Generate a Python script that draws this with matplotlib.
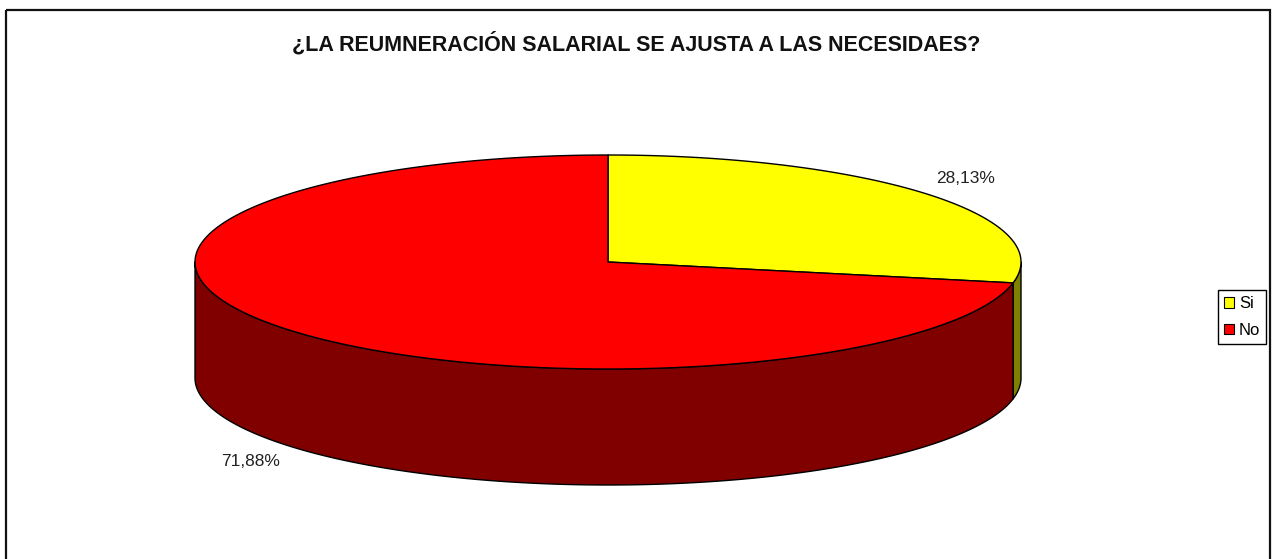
import numpy as np
import matplotlib
matplotlib.use("Agg")
import matplotlib.pyplot as plt
from matplotlib.patches import Polygon, Rectangle, Patch

# datos
labels = ["Si", "No"]
values = [28.13, 71.88]
pct_text = ["28,13%", "71,88%"]
top_colors = ["#FFFF00", "#FF0000"]
side_colors = ["#808000", "#800000"]
title = "¿LA REUMNERACIÓN SALARIAL SE AJUSTA A LAS NECESIDAES?"

plt.rcParams["font.family"] = ["Liberation Sans", "DejaVu Sans"]

W, H = 1275, 559
fig = plt.figure(figsize=(W / 100, H / 100), dpi=100)
ax = fig.add_axes([0, 0, 1, 1])
ax.set_xlim(0, W)
ax.set_ylim(H, 0)
ax.axis("off")

# geometria del pastel 3D (pixeles)
cx, cy, a, b, depth = 608, 262, 413, 107, 116


def pt(t, dy=0):
    return cx + a * np.sin(t), cy - b * np.cos(t) + dy


total = sum(values)
bounds = np.concatenate([[0], np.cumsum(values) / total * 2 * np.pi])

# paredes laterales (solo mitad frontal: pi/2 .. 3pi/2)
for i in range(len(values)):
    t0 = max(bounds[i], np.pi / 2)
    t1 = min(bounds[i + 1], 3 * np.pi / 2)
    if t1 <= t0:
        continue
    ts = np.linspace(t0, t1, 200)
    up = [pt(t) for t in ts]
    dn = [pt(t, depth) for t in ts[::-1]]
    ax.add_patch(Polygon(up + dn, closed=True, facecolor=side_colors[i],
                         edgecolor="black", lw=1.0, joinstyle="round"))

# caras superiores
for i in range(len(values)):
    ts = np.linspace(bounds[i], bounds[i + 1], 300)
    verts = [(cx, cy)] + [pt(t) for t in ts]
    ax.add_patch(Polygon(verts, closed=True, facecolor=top_colors[i],
                         edgecolor="black", lw=1.0, joinstyle="round"))

# etiquetas de porcentaje
for i in range(len(values)):
    tm = (bounds[i] + bounds[i + 1]) / 2
    x = cx + 1.12 * a * np.sin(tm)
    y = cy - 1.235 * b * np.cos(tm)
    if np.cos(tm) < 0:
        y += depth
    ax.text(x, y, pct_text[i], ha="center", va="center", fontsize=12.5,
            color="#222222")

ax.text(636, 44, title, ha="center", va="center", fontsize=15.5,
        fontweight="bold", color="#111111")

# borde del grafico
ax.add_patch(Rectangle((6, 10), 1264, 600, fill=False, edgecolor="#111111", lw=1.6))

handles = [Patch(facecolor=c, edgecolor="black", lw=0.8) for c in top_colors]
leg = fig.legend(handles, labels, loc="center left",
                 bbox_to_anchor=(1218 / W, 1 - 317 / H), fontsize=12,
                 frameon=True, fancybox=False, framealpha=1, edgecolor="black",
                 handlelength=0.6, handleheight=0.6, handletextpad=0.3,
                 borderpad=0.35, labelspacing=0.7, borderaxespad=0)
leg.get_frame().set_linewidth(1.0)

fig.savefig("out.png", dpi=100)
